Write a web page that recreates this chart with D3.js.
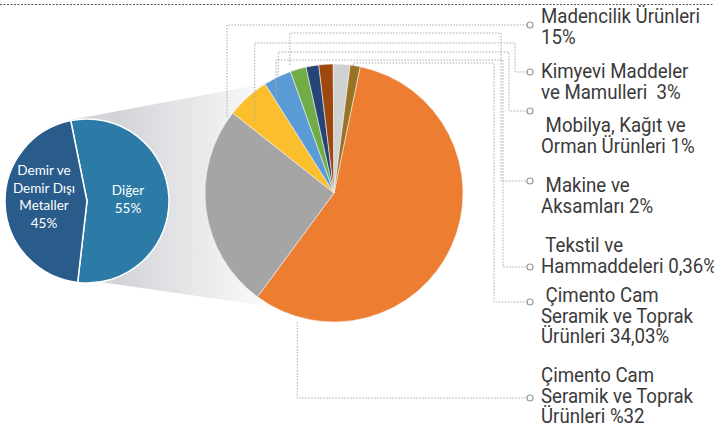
<!DOCTYPE html>
<html lang="tr">
<head>
<meta charset="utf-8">
<script src="https://cdn.jsdelivr.net/npm/d3@7"></script>
<style>
  body { margin: 0; background: #fff; }
  svg { display: block; }
  .lbl { font-family: Roboto, "DejaVu Sans Condensed", sans-serif; font-size: 21px; fill: #3a3a3a; white-space: pre; }
  .inner { font-family: Lato, "Open Sans", sans-serif; font-size: 13.5px; fill: #fff; }
</style>
</head>
<body>
<script>
// left pie
var splitNames = ["Diğer", "Demir ve Demir Dışı Metaller"];
var splitValues = [55, 45];
var splitColors = ["#2c7aa6", "#295b8b"];
var splitText = [["Diğer", "55%"], ["Demir ve", "Demir Dışı", "Metaller", "45%"]];

// right pie, clockwise from the top
var sliceValues = [57, 25.6, 5.4, 3.5, 2, 1.6, 1.8, 2.1, 1.25];
var sliceColors = ["#ed7d31", "#a5a5a5", "#fbbf2d", "#5b9bd5", "#70ad47", "#264478", "#9e480e", "#d0d1d1", "#997325"];

// labels on the right and the slice each leader starts from
var labelLines = [
  ["Madencilik Ürünleri", "15%"],
  ["Kimyevi Maddeler", "ve Mamulleri  3%"],
  [" Mobilya, Kağıt ve", "Orman Ürünleri 1%"],
  [" Makine ve", "Aksamları 2%"],
  [" Tekstil ve", "Hammaddeleri 0,36%"],
  [" Çimento Cam", "Seramik ve Toprak", "Ürünleri 34,03%"],
  ["Çimento Cam", "Seramik ve Toprak", "Ürünleri %32"]
];
var labelSlice = [1, 2, 3, 4, 3, 8, 0];
var labelSliceT = [0.97, 0.2, 0.55, 0.1, 0.1, 0.3, 0.9];
var labelAnchorR = [1.02, 0.83, 1.01, 1.05, 0.87, 1.0, 1.04];

var w = 714, h = 431;
var svg = d3.select("body").append("svg").attr("width", w).attr("height", h);

var small = { x: 87, y: 201, r: 82 };
var big = { x: 334, y: 193, r: 129 };

// dotted rule at the top
svg.append("line")
  .attr("x1", 0).attr("x2", w).attr("y1", 4.5).attr("y2", 4.5)
  .attr("stroke", "#555").attr("stroke-dasharray", "2,1.5");

// grey wedge joining the two pies
var grad = svg.append("defs").append("linearGradient")
  .attr("id", "fade").attr("gradientUnits", "userSpaceOnUse")
  .attr("x1", 120).attr("x2", 262).attr("y1", 0).attr("y2", 0);
grad.append("stop").attr("offset", 0).attr("stop-color", "#d3d4d8");
grad.append("stop").attr("offset", 1).attr("stop-color", "#fafafa");

svg.append("path")
  .attr("d", d3.line()([[70, 120], [300, 77], [300, 311], [100, 282]]) + "Z")
  .attr("fill", "url(#fade)");

// small pie
var smallPie = d3.pie().sort(null).startAngle(-0.2).endAngle(-0.2 + 2 * Math.PI);
var smallArc = d3.arc().innerRadius(0).outerRadius(small.r);
var gs = svg.append("g").attr("transform", "translate(" + small.x + "," + small.y + ")");
gs.selectAll("path")
  .data(smallPie(splitValues))
  .enter().append("path")
  .attr("d", smallArc)
  .attr("fill", (d, i) => splitColors[i])
  .attr("stroke", "#fff").attr("stroke-width", 1.5);

var innerPos = [[41, -6], [-43, -26]];
splitText.forEach(function(lines, i) {
  var t = gs.append("text").attr("class", "inner").attr("text-anchor", "middle");
  lines.forEach(function(s, j) {
    t.append("tspan").attr("x", innerPos[i][0]).attr("y", innerPos[i][1] + j * 17.7).text(s);
  });
});

// big pie
var bigPie = d3.pie().sort(null).startAngle(11.7 * Math.PI / 180).endAngle(11.7 * Math.PI / 180 + 2 * Math.PI);
var bigArc = d3.arc().innerRadius(0).outerRadius(big.r);
var arcs = bigPie(sliceValues);
var gb = svg.append("g").attr("transform", "translate(" + big.x + "," + big.y + ")");
gb.selectAll("path")
  .data(arcs)
  .enter().append("path")
  .attr("d", bigArc)
  .attr("fill", (d, i) => sliceColors[i])
  .attr("stroke", "#f4f4f4").attr("stroke-width", 0.6);

// leaders
var labelX = 541, dotX = 530;
var lineH = 20.7;
var firstBase = [23, 78, 132, 192, 252, 302, 382];
var dotY = [25, 72, 111, 181, 267, 302, 398];
var elbowY = [25, 43, 52, 33, 60, 63, 398];
var turnX = [dotX, 515, 509, 501, 503, 494, dotX];

var labelsG = svg.append("g");
labelLines.forEach(function(lines, i) {
  var a = arcs[labelSlice[i]];
  var ang = a.startAngle + labelSliceT[i] * (a.endAngle - a.startAngle);
  var r = big.r * labelAnchorR[i];
  var ax = big.x + r * Math.sin(ang), ay = big.y - r * Math.cos(ang);
  var pts = [[ax, ay], [ax, elbowY[i]], [turnX[i], elbowY[i]], [turnX[i], dotY[i]], [dotX - 3, dotY[i]]];
  svg.append("path")
    .attr("d", d3.line()(pts))
    .attr("fill", "none")
    .attr("stroke", "#aaa").attr("stroke-width", 1)
    .attr("stroke-dasharray", "1.5,1.5");
  svg.append("circle")
    .attr("cx", dotX).attr("cy", dotY[i]).attr("r", 3)
    .attr("fill", "#fff").attr("stroke", "#999").attr("stroke-width", 1.2);
  var t = labelsG.append("text").attr("class", "lbl");
  lines.forEach(function(s, j) {
    t.append("tspan").attr("y", firstBase[i] + j * lineH).text(s);
  });
});

// the reference font is condensed: squeeze to the measured width of the first label
var firstLen = labelsG.select("tspan").node().getComputedTextLength();
var sx = 159 / firstLen;
labelsG.attr("transform", "scale(" + sx + ",1)");
labelsG.selectAll("tspan").attr("x", labelX / sx);
</script>
</body>
</html>
